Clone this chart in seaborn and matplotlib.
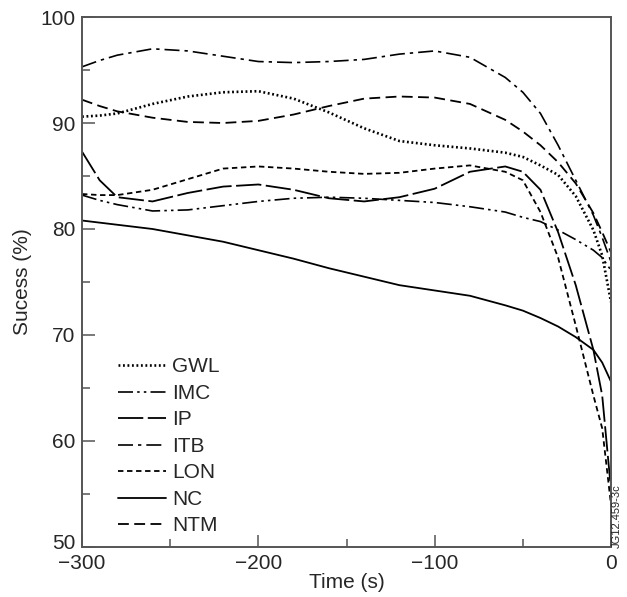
import numpy as np
import pandas as pd
import matplotlib
matplotlib.use("Agg")
from matplotlib import pyplot as plt
from matplotlib.transforms import ScaledTranslation
import seaborn as sns

# time axis (s) and success (%)
time = [-300, -290, -280, -260, -240, -220, -200, -180, -160, -140, -120,
        -100, -80, -60, -50, -40, -30, -20, -10, -5, 0]

gwl = [90.6, 90.7, 90.9, 91.8, 92.5, 92.9, 93.0, 92.3, 91.0, 89.5, 88.3,
       87.9, 87.6, 87.2, 86.8, 86.0, 85.1, 83.1, 79.9, 77.5, 73.1]
imc = [83.2, 82.7, 82.3, 81.7, 81.8, 82.2, 82.6, 82.9, 83.0, 82.9, 82.7,
       82.5, 82.1, 81.6, 81.1, 80.7, 79.9, 79.0, 78.0, 77.3, 76.1]
ip = [87.3, 84.6, 83.0, 82.6, 83.4, 84.0, 84.2, 83.7, 82.9, 82.6, 83.0,
      83.8, 85.4, 85.9, 85.4, 83.7, 79.7, 74.7, 68.6, 64.3, 55.4]
itb = [95.3, 95.9, 96.4, 97.0, 96.8, 96.3, 95.8, 95.7, 95.8, 96.0, 96.5,
       96.8, 96.2, 94.3, 92.9, 90.9, 87.9, 84.6, 81.3, 79.2, 76.9]
lon = [83.3, 83.2, 83.2, 83.7, 84.7, 85.7, 85.9, 85.7, 85.4, 85.2, 85.3,
       85.7, 86.0, 85.4, 84.6, 81.6, 77.3, 70.9, 64.3, 61.2, 54.0]
nc = [80.8, 80.6, 80.4, 80.0, 79.4, 78.8, 78.0, 77.2, 76.3, 75.5, 74.7,
      74.2, 73.7, 72.8, 72.3, 71.6, 70.8, 69.8, 68.6, 67.4, 65.6]
ntm = [92.2, 91.6, 91.1, 90.5, 90.1, 90.0, 90.2, 90.8, 91.6, 92.3, 92.5,
       92.4, 91.8, 90.3, 89.2, 87.9, 86.3, 84.3, 81.5, 79.7, 77.8]

names = ["GWL", "IMC", "IP", "ITB", "LON", "NC", "NTM"]
series = [gwl, imc, ip, itb, lon, nc, ntm]
styles = {
    "GWL": dict(linestyle=(0, (0.7, 1.0)), lw=1.9),
    "IMC": dict(linestyle=(0, (9, 2.5, 1.5, 2.5, 1.5, 2.5)), lw=1.2),
    "IP": dict(linestyle=(0, (14, 2.5)), lw=1.3),
    "ITB": dict(linestyle=(0, (9, 3, 2, 3)), lw=1.2),
    "LON": dict(linestyle=(0, (3, 2)), lw=1.3),
    "NC": dict(linestyle="-", lw=1.3),
    "NTM": dict(linestyle=(0, (6, 3)), lw=1.3),
}

sns.set_style("ticks")
plt.rcParams['font.family'] = ['Liberation Sans', 'DejaVu Sans']

fig = plt.figure(figsize=(6.27, 5.97), dpi=100)
ax = fig.add_axes([0.1308, 0.0838, 0.8437, 0.8877])

for name, vals in zip(names, series):
    sns.lineplot(x=time, y=vals, ax=ax, color="black", label=name,
                 **styles[name])

ax.set_xlim(-300, 0)
ax.set_ylim(50, 100)
ax.set_xticks([-300, -200, -100, 0])
ax.set_xticklabels(["\u2212300", "\u2212200", "\u2212100", "0"])
ax.set_yticks([50, 60, 70, 80, 90, 100])
ax.set_xticks([-250, -150, -50], minor=True)
ax.set_yticks([55, 65, 75, 85, 95], minor=True)
ax.tick_params(which="major", direction="in", length=9, width=1.1,
               color="#555555", labelsize=15)
ax.tick_params(axis="x", which="major", pad=5)
ax.tick_params(axis="y", which="major", pad=5)
ax.tick_params(which="minor", direction="in", length=5.5, width=1.1,
               color="#555555")
for s in ax.spines.values():
    s.set_color("#555555")
    s.set_linewidth(1.4)

# lift the bottom "50" label a little so it clears the "-300" below it
lab50 = ax.get_yticklabels()[0]
lab50.set_transform(lab50.get_transform()
                    + ScaledTranslation(0, 5 / 100, fig.dpi_scale_trans))

ax.set_xlabel("Time (s)", fontsize=15, labelpad=0)
ax.set_ylabel("Sucess (%)", fontsize=15, labelpad=6)

ax.legend(loc="lower left", bbox_to_anchor=(0.068, 0.022), frameon=False,
          fontsize=15, handlelength=2.3, handletextpad=0.3,
          labelspacing=0.36, borderpad=0, borderaxespad=0)

fig.text(617 / 627, 0.082, "JG12.459-3c", rotation=90, ha="center",
         va="bottom", fontsize=8)

fig.savefig("out.png", dpi=100)
